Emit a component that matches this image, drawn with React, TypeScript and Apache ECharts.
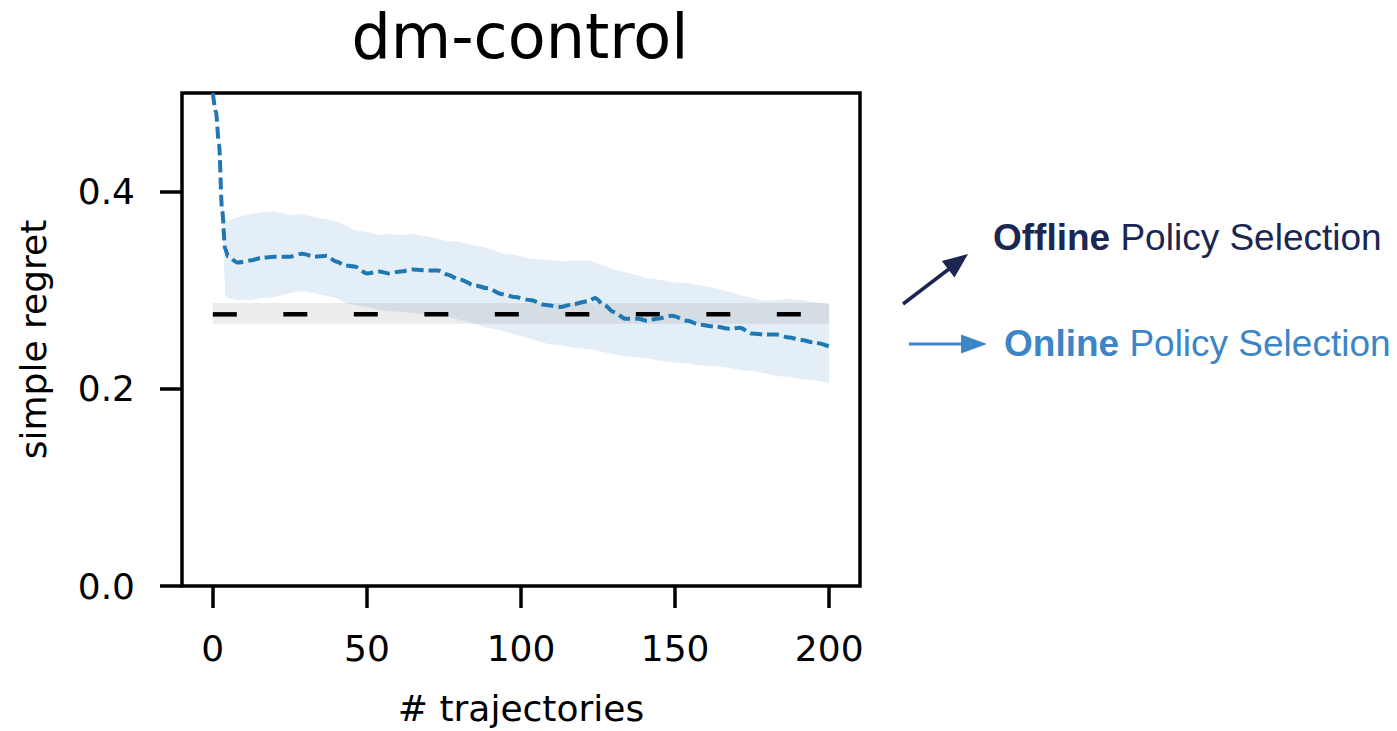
import React, { useEffect, useRef } from "react";
import * as echarts from "echarts";

// Number of trajectories at which the online policy-selection curve is sampled
const trajectories = [
  0, 1, 2, 3, 4, 5, 8, 12, 16, 20, 25, 29, 33, 37, 40, 43, 46, 50, 54, 57, 61,
  65, 70, 73, 76, 80, 85, 89, 94, 98, 103, 108, 113, 117, 122, 124, 127, 130,
  134, 138, 141, 144, 149, 154, 158, 163, 168, 171, 175, 179, 183, 187, 191,
  195, 200,
];

// Mean simple regret of online policy selection
const meanRegret = [
  0.5, 0.481, 0.448, 0.382, 0.342, 0.334, 0.328, 0.33, 0.333, 0.334, 0.334,
  0.337, 0.334, 0.335, 0.329, 0.325, 0.324, 0.317, 0.319, 0.317, 0.319, 0.321,
  0.32, 0.32, 0.316, 0.311, 0.305, 0.302, 0.296, 0.293, 0.29, 0.285, 0.283,
  0.286, 0.289, 0.292, 0.285, 0.278, 0.271, 0.271, 0.269, 0.271, 0.274, 0.269,
  0.265, 0.263, 0.261, 0.262, 0.256, 0.255, 0.255, 0.252, 0.2495, 0.247, 0.243,
];

// Upper edge of the confidence band
const upperRegret = [
  0.504, 0.485, 0.452, 0.386, 0.372, 0.37, 0.374, 0.377, 0.379, 0.38, 0.376,
  0.377, 0.374, 0.372, 0.37, 0.366, 0.361, 0.359, 0.356, 0.357, 0.356, 0.357,
  0.354, 0.352, 0.35, 0.349, 0.345, 0.343, 0.337, 0.336, 0.332, 0.331, 0.329,
  0.33, 0.33, 0.328, 0.325, 0.321, 0.318, 0.315, 0.312, 0.311, 0.308, 0.307,
  0.305, 0.302, 0.298, 0.295, 0.292, 0.289, 0.29, 0.291, 0.29, 0.288, 0.286,
];

// Lower edge of the confidence band
const lowerRegret = [
  0.496, 0.477, 0.444, 0.378, 0.294, 0.292, 0.29, 0.29, 0.292, 0.293, 0.297,
  0.299, 0.297, 0.294, 0.292, 0.287, 0.285, 0.283, 0.28, 0.279, 0.278, 0.277,
  0.275, 0.274, 0.273, 0.27, 0.266, 0.262, 0.259, 0.255, 0.251, 0.246, 0.244,
  0.242, 0.24, 0.239, 0.237, 0.235, 0.233, 0.232, 0.231, 0.229, 0.227, 0.226,
  0.224, 0.223, 0.221, 0.219, 0.218, 0.216, 0.213, 0.212, 0.21, 0.209, 0.206,
];

// Offline policy selection: constant regret with its band
const offlineRange = [0, 200];
const offlineRegret = 0.2755;
const offlineUpper = 0.287;
const offlineLower = 0.266;

const xTicks = [0, 50, 100, 150, 200];
const yTicks = [0, 0.2, 0.4];

const BLUE = "#1f77b4";
const NAVY = "#1b2752";
const LIGHT_BLUE = "#3d85c6";
const FONT = "DejaVu Sans";

export default function App() {
  const ref = useRef<HTMLDivElement>(null);

  useEffect(() => {
    if (!ref.current) return;
    const chart = echarts.init(ref.current, null, { renderer: "svg" });

    const onlineBand = (params: any, api: any) => {
      const pts: number[][] = [];
      for (let i = 0; i < trajectories.length; i++) {
        pts.push(api.coord([trajectories[i], upperRegret[i]]));
      }
      for (let i = trajectories.length - 1; i >= 0; i--) {
        pts.push(api.coord([trajectories[i], lowerRegret[i]]));
      }
      return {
        type: "polygon",
        shape: { points: pts },
        style: { fill: "rgba(31,119,180,0.12)" },
      };
    };

    const offlineBand = (params: any, api: any) => {
      const pts = [
        api.coord([offlineRange[0], offlineUpper]),
        api.coord([offlineRange[1], offlineUpper]),
        api.coord([offlineRange[1], offlineLower]),
        api.coord([offlineRange[0], offlineLower]),
      ];
      return {
        type: "polygon",
        shape: { points: pts },
        style: { fill: "rgba(120,120,120,0.14)" },
      };
    };

    const axisLabelStyle = {
      color: "#000",
      fontFamily: FONT,
      fontSize: 36,
    };

    chart.setOption({
      animation: false,
      backgroundColor: "#fff",
      grid: {
        left: 182,
        right: 1397 - 860,
        top: 93,
        bottom: 731 - 589,
        show: true,
        borderColor: "#000",
        borderWidth: 3.5,
        backgroundColor: "transparent",
      },
      xAxis: {
        type: "value",
        min: -10,
        max: 210,
        name: "# trajectories",
        nameLocation: "middle",
        nameGap: 104,
        nameTextStyle: { ...axisLabelStyle },
        axisLine: { show: false, onZero: false },
        splitLine: { show: false },
        axisTick: {
          show: true,
          length: 22,
          lineStyle: { color: "#000", width: 3.5 },
          customValues: xTicks,
        },
        axisLabel: {
          ...axisLabelStyle,
          margin: 44,
          customValues: xTicks,
          formatter: (v: number) => String(Math.round(v)),
        },
      },
      yAxis: {
        type: "value",
        min: 0,
        max: 0.5,
        name: "simple regret",
        nameLocation: "middle",
        nameGap: 131,
        nameTextStyle: { ...axisLabelStyle },
        axisLine: { show: false, onZero: false },
        splitLine: { show: false },
        axisTick: {
          show: true,
          length: 22,
          lineStyle: { color: "#000", width: 3.5 },
          customValues: yTicks,
        },
        axisLabel: {
          ...axisLabelStyle,
          margin: 47,
          customValues: yTicks,
          formatter: (v: number) => v.toFixed(1),
        },
      },
      series: [
        {
          type: "custom",
          name: "online band",
          coordinateSystem: "cartesian2d",
          data: [[0, 0]],
          renderItem: onlineBand,
          clip: true,
          silent: true,
          z: 1,
        },
        {
          type: "custom",
          name: "offline band",
          coordinateSystem: "cartesian2d",
          data: [[0, 0]],
          renderItem: offlineBand,
          clip: true,
          silent: true,
          z: 2,
        },
        {
          type: "line",
          name: "Offline Policy Selection",
          data: offlineRange.map((x) => [x, offlineRegret]),
          showSymbol: false,
          silent: true,
          lineStyle: { color: "#000", width: 4.5, type: [24, 46.5] },
          z: 3,
        },
        {
          type: "line",
          name: "Online Policy Selection",
          data: trajectories.map((t, i) => [t, meanRegret[i]]),
          showSymbol: false,
          silent: true,
          smooth: 0.3,
          smoothMonotone: "x",
          clip: true,
          lineStyle: { color: BLUE, width: 4, type: [12, 5] },
          z: 4,
        },
      ],
      graphic: [
        {
          type: "text",
          x: 520,
          y: 36,
          style: {
            text: "dm-control",
            fill: "#000",
            fontFamily: FONT,
            fontSize: 62,
            textAlign: "center",
            textVerticalAlign: "middle",
          },
        },
        // Arrow pointing to the offline label
        {
          type: "line",
          shape: { x1: 903, y1: 304, x2: 949, y2: 269 },
          style: { stroke: NAVY, lineWidth: 3.5 },
        },
        {
          type: "polygon",
          shape: {
            points: [
              [968, 254],
              [954.5, 277.5],
              [941.8, 261],
            ],
          },
          style: { fill: NAVY },
        },
        {
          type: "text",
          x: 993,
          y: 237,
          style: {
            text: "{b|Offline} Policy Selection",
            fill: NAVY,
            fontFamily: "Liberation Sans",
            fontSize: 37,
            textVerticalAlign: "middle",
            rich: {
              b: {
                fontFamily: "Liberation Sans",
                fontSize: 37,
                fontWeight: "bold",
                fill: NAVY,
              },
            },
          },
        },
        // Arrow pointing to the online label
        {
          type: "line",
          shape: { x1: 909, y1: 344, x2: 964, y2: 344 },
          style: { stroke: LIGHT_BLUE, lineWidth: 3 },
        },
        {
          type: "polygon",
          shape: {
            points: [
              [987, 344],
              [961, 334.5],
              [961, 353.5],
            ],
          },
          style: { fill: LIGHT_BLUE },
        },
        {
          type: "text",
          x: 1004,
          y: 343,
          style: {
            text: "{b|Online} Policy Selection",
            fill: LIGHT_BLUE,
            fontFamily: "Liberation Sans",
            fontSize: 37,
            textVerticalAlign: "middle",
            rich: {
              b: {
                fontFamily: "Liberation Sans",
                fontSize: 37,
                fontWeight: "bold",
                fill: LIGHT_BLUE,
              },
            },
          },
        },
      ],
    });

    return () => chart.dispose();
  }, []);

  return (
    <div
      ref={ref}
      style={{ position: "fixed", left: 0, top: 0, width: 1397, height: 731 }}
    />
  );
}
